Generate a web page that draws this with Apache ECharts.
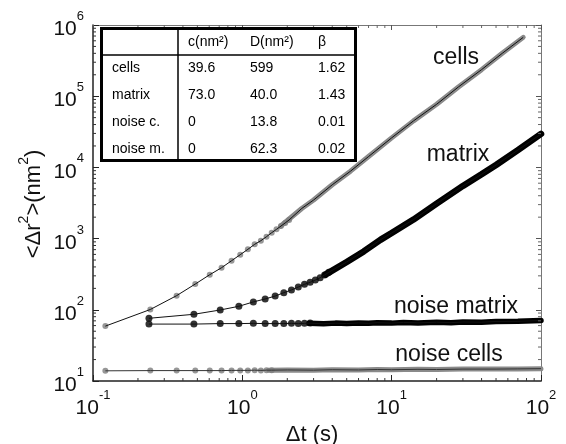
<!DOCTYPE html>
<html><head><meta charset="utf-8">
<script src="https://cdn.jsdelivr.net/npm/echarts@6/dist/echarts.min.js"></script>
<style>html,body{margin:0;padding:0;background:#fff}#c{width:566px;height:444px}</style>
</head><body><div id="c"></div>
<script>
// ---- data (Δt in s, <Δr²> in nm²) ----
const cellsPts = [[0.121,59],[0.242,101],[0.363,158],[0.484,230],[0.605,311],[0.726,390],[0.847,489],[0.968,594],[1.089,707],[1.21,832],[1.331,935],[1.452,1064],[1.573,1211],[1.694,1350],[1.815,1500],[1.936,1660],[2.057,1830]];
const cellsBand = [[1.8,1490],[2.5,2650],[3,3480],[4,5700],[5.3,8850],[7,14200],[10,26000],[14,45000],[20,77000],[28,135000],[40,236000],[55,400000],[76,670000]];
const matrixPts = [[0.237,76],[0.474,86.5],[0.711,99.4],[0.948,112],[1.185,129],[1.422,142],[1.659,156],[1.896,174],[2.133,190],[2.37,209],[2.607,228],[2.844,243],[3.081,262],[3.318,282],[3.555,308],[3.792,336]];
const matrixBand = [[3.6,312],[5,470],[6.5,660],[8.4,960],[10,1200],[14,1850],[20,3100],[30,5500],[40,8000],[50,10800],[70,17500],[100,29500]];
const noiseMPts = [[0.237,63],[0.474,63],[0.711,64],[0.948,64],[1.185,64.5],[1.422,64],[1.659,64],[1.896,64],[2.133,64.5],[2.37,64],[2.607,64.5],[2.844,65]];
const noiseMBand = [[2.8,64.5],[3.5,63.5],[4.2,65],[5,64],[6,65.5],[7,64.5],[8,66],[10,65],[12,66.5],[15,65.5],[20,67],[25,66],[30,67.5],[40,67],[50,68.5],[70,69],[100,70.5]];
const noiseCPts = [[0.121,13.9],[0.242,14],[0.363,14],[0.484,14],[0.605,14],[0.726,14],[0.847,14.1],[0.968,14.1],[1.089,14.1],[1.21,14.2],[1.331,14.1],[1.452,14.2],[1.573,14.2]];
const noiseCBand = [[1.5,14.2],[2,14.3],[3,14.2],[4,14.4],[6,14.3],[8,14.5],[10,14.4],[15,14.6],[20,14.5],[30,14.7],[50,14.7],[70,14.8],[100,14.9]];

const curveNames = ['cells','matrix','noise matrix','noise cells'];
const xTitle = 'Δt (s)';
const yTitleParts = ['<Δr','2','>(nm','2',')'];
const tableHeader = ['', 'c(nm²)', 'D(nm²)', 'β'];
const tableRows = [
  ['cells','39.6','599','1.62'],
  ['matrix','73.0','40.0','1.43'],
  ['noise c.','0','13.8','0.01'],
  ['noise m.','0','62.3','0.02']
];

const FONT = 'Liberation Sans, Arial, sans-serif';
const GRAY = '#7d7d7d';
const X0 = 0.1, X1 = 100, Y0 = 10, Y1 = 1e6;

function fitLine(pts, band){ const last = pts[pts.length-1][0]; return pts.concat(band.filter(p=>p[0]>last)); }

// minor tick positions (2..9 per decade)
const minorTicks = [];
for (let e=-1; e<2; e++) for (let m=2; m<10; m++) minorTicks.push([m*Math.pow(10,e), Y0, 0]);
for (let e=1; e<6; e++) for (let m=2; m<10; m++) minorTicks.push([X0, m*Math.pow(10,e), 1]);

const labelFmt = v => '{b|10}{s|' + Math.round(Math.log10(v)) + '}';
const labelRich = {
  b: {fontSize: 21, fontFamily: FONT, color: '#111', padding: [9,0,0,0], verticalAlign: 'bottom'},
  s: {fontSize: 13, fontFamily: FONT, color: '#111', verticalAlign: 'top'}
};

const axisCommon = {type:'log', logBase:10, splitLine:{show:false}, minorTick:{show:false}, minorSplitLine:{show:false}};

const chart = echarts.init(document.getElementById('c'), null, {renderer:'canvas'});

// table graphic
const colX = [112, 188, 250, 318];
const rowY = [42, 68, 95, 122, 149];
const tableChildren = [
  {type:'rect', shape:{x:101.5, y:28.5, width:254, height:132}, style:{fill:'#fff', stroke:'#000', lineWidth:3}, z:100},
  {type:'line', shape:{x1:178, y1:28.5, x2:178, y2:160.5}, style:{stroke:'#000', lineWidth:1.5}, z:101},
  {type:'line', shape:{x1:101.5, y1:55, x2:355.5, y2:55}, style:{stroke:'#000', lineWidth:1.5}, z:101}
];
[tableHeader].concat(tableRows).forEach((row, ri) => {
  row.forEach((txt, ci) => {
    if (!txt) return;
    tableChildren.push({type:'text', x: colX[ci], y: rowY[ri], z:102,
      style:{text: txt, font: '14px ' + FONT, fill:'#000', textAlign:'left', textVerticalAlign:'middle'}});
  });
});

const annPos = [[456,58],[458,155],[456,307],[449,355]];
const annotations = curveNames.map((n,i)=>({type:'text', x: annPos[i][0], y: annPos[i][1], z:50,
  style:{text:n, font:'23px ' + FONT, fill:'#111', textAlign:'center', textVerticalAlign:'middle'}}));

const option = {
  animation: false,
  backgroundColor: '#fff',
  grid: {left: 93, top: 25, width: 448, height: 356, containLabel: false},
  xAxis: [
    Object.assign({}, axisCommon, {min:X0, max:X1, position:'bottom',
      axisLine:{lineStyle:{color:'#222', width:1.5}},
      axisTick:{inside:true, length:6, lineStyle:{color:'#222'}},
      axisLabel:{margin:8, formatter: labelFmt, rich: labelRich}}),
    Object.assign({}, axisCommon, {min:X0, max:X1, position:'top',
      axisLine:{lineStyle:{color:'#777', width:1}},
      axisTick:{inside:true, length:5, lineStyle:{color:'#555'}},
      axisLabel:{show:false}})
  ],
  yAxis: [
    Object.assign({}, axisCommon, {min:Y0, max:Y1, position:'left',
      axisLine:{lineStyle:{color:'#222', width:1.5}},
      axisTick:{inside:true, length:6, lineStyle:{color:'#222'}},
      axisLabel:{margin:9, formatter: labelFmt, rich: labelRich}}),
    Object.assign({}, axisCommon, {min:Y0, max:Y1, position:'right',
      axisLine:{lineStyle:{color:'#777', width:1}},
      axisTick:{inside:true, length:5, lineStyle:{color:'#555'}},
      axisLabel:{show:false}})
  ],
  series: [
    // thick bands (dense data)
    {type:'line', data: cellsBand, showSymbol:false, symbol:'none', lineStyle:{color:'#8a8a8a', width:5, cap:'round'}, z:2},
    {type:'line', data: matrixBand, showSymbol:false, symbol:'none', lineStyle:{color:'#000', width:6.5, cap:'round'}, z:2},
    {type:'line', data: noiseMBand, showSymbol:false, symbol:'none', lineStyle:{color:'#000', width:5.5, cap:'round'}, z:2},
    {type:'line', data: noiseCBand, showSymbol:false, symbol:'none', lineStyle:{color:'#8a8a8a', width:5, cap:'round'}, z:2},
    // separate points
    {type:'scatter', data: cellsPts, symbol:'circle', symbolSize:6, itemStyle:{color:GRAY}, z:3},
    {type:'scatter', data: noiseCPts, symbol:'circle', symbolSize:6, itemStyle:{color:GRAY}, z:3},
    {type:'scatter', data: matrixPts, symbol:'circle', symbolSize:7, itemStyle:{color:'#000'}, z:3},
    {type:'scatter', data: noiseMPts, symbol:'circle', symbolSize:7, itemStyle:{color:'#000'}, z:3},
    // thin connecting lines
    {type:'line', data: fitLine(cellsPts, cellsBand), symbol:'none', lineStyle:{color:'#111', width:1}, z:4},
    {type:'line', data: fitLine(matrixPts, matrixBand), symbol:'none', lineStyle:{color:'#111', width:1}, z:4},
    {type:'line', data: fitLine(noiseMPts, noiseMBand), symbol:'none', lineStyle:{color:'#111', width:1}, z:4},
    {type:'line', data: fitLine(noiseCPts, noiseCBand), symbol:'none', lineStyle:{color:'#333', width:1}, z:4},
    // minor ticks on all four sides
    {type:'custom', data: minorTicks, silent:true, z:5, clip:false,
      renderItem: function(params, api){
        const cs = params.coordSys;
        const kind = api.value(2);
        const L = 3;
        if (kind === 0) {
          const x = api.coord([api.value(0), Y0])[0];
          return {type:'group', children:[
            {type:'line', shape:{x1:x, y1:cs.y+cs.height, x2:x, y2:cs.y+cs.height-L}, style:{stroke:'#333', lineWidth:1}},
            {type:'line', shape:{x1:x, y1:cs.y, x2:x, y2:cs.y+L}, style:{stroke:'#666', lineWidth:1}}
          ]};
        }
        const y = api.coord([X0, api.value(1)])[1];
        return {type:'group', children:[
          {type:'line', shape:{x1:cs.x, y1:y, x2:cs.x+L, y2:y}, style:{stroke:'#333', lineWidth:1}},
          {type:'line', shape:{x1:cs.x+cs.width, y1:y, x2:cs.x+cs.width-L, y2:y}, style:{stroke:'#666', lineWidth:1}}
        ]};
      }}
  ],
  graphic: [
    {type:'group', children: tableChildren},
    ...annotations,
    {type:'text', x:312, y:435, style:{text:xTitle, font:'22px ' + FONT, fill:'#111', textAlign:'center', textVerticalAlign:'middle'}},
    {type:'text', x:31, y:204, rotation: Math.PI/2,
      style:{text: '{m|' + yTitleParts[0] + '}{s|' + yTitleParts[1] + '}{m|' + yTitleParts[2] + '}{s|' + yTitleParts[3] + '}{m|' + yTitleParts[4] + '}',
        textAlign:'center', textVerticalAlign:'middle', fill:'#111',
        rich:{m:{fontSize:22, fontFamily:FONT, fill:'#111', padding:[5,0,0,0], verticalAlign:'bottom'}, s:{fontSize:14, fontFamily:FONT, fill:'#111', verticalAlign:'top'}}}}
  ]
};
chart.setOption(option);
</script>
</body></html>
